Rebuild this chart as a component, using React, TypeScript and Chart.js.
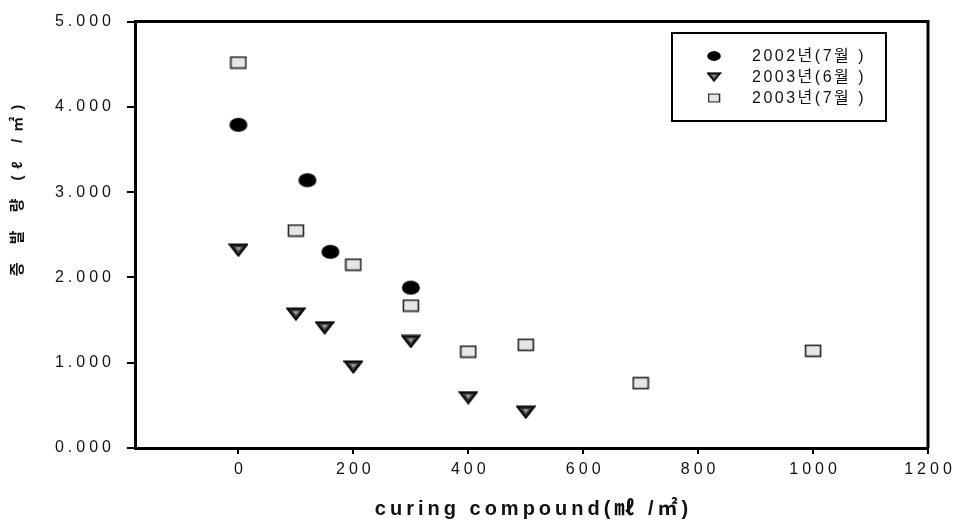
import React, { useEffect, useRef } from "react";
import { Chart, registerables } from "chart.js";

Chart.register(...registerables);

// ---- data ----
const seriesLabels = ["2002년(7월 )", "2003년(6월 )", "2003년(7월 )"];
const x2002Jul = [0, 120, 160, 300];
const y2002Jul = [3.79, 3.14, 2.3, 1.88];
const x2003Jun = [0, 100, 150, 200, 300, 400, 500];
const y2003Jun = [2.32, 1.57, 1.41, 0.95, 1.25, 0.59, 0.42];
const x2003Jul = [0, 100, 200, 300, 400, 500, 700, 1000];
const y2003Jul = [4.52, 2.55, 2.15, 1.67, 1.13, 1.21, 0.76, 1.14];
const xTicks = [0, 200, 400, 600, 800, 1000, 1200];
const yTicks = [0, 1, 2, 3, 4, 5];
const xTitle = "curing compound(㎖ /㎡)";
const yTitle = "증 발 량 (ℓ /㎡)";

const FONT = '"Liberation Sans", Arial, "Noto Sans CJK KR", sans-serif';

function zip(xs: number[], ys: number[]) {
  return xs.map((x, i) => ({ x, y: ys[i] }));
}

function makeEllipse() {
  const c = document.createElement("canvas");
  c.width = 20;
  c.height = 16;
  const g = c.getContext("2d")!;
  g.fillStyle = "#000";
  g.beginPath();
  g.ellipse(10, 8, 9, 7, 0, 0, Math.PI * 2);
  g.fill();
  return c;
}

function makeTriangle() {
  const c = document.createElement("canvas");
  c.width = 20;
  c.height = 14;
  const g = c.getContext("2d")!;
  g.beginPath();
  g.moveTo(1.5, 1.5);
  g.lineTo(18.5, 1.5);
  g.lineTo(10, 12.5);
  g.closePath();
  g.fillStyle = "#3c3c3c";
  g.fill();
  g.lineWidth = 2;
  g.strokeStyle = "#000";
  g.stroke();
  g.fillStyle = "#9a9a9a";
  g.beginPath();
  g.moveTo(7, 4);
  g.lineTo(13, 4);
  g.lineTo(10, 8);
  g.closePath();
  g.fill();
  return c;
}

function makeRect() {
  const c = document.createElement("canvas");
  c.width = 18;
  c.height = 14;
  const g = c.getContext("2d")!;
  g.fillStyle = "#e6e6e6";
  g.fillRect(1, 1, 16, 12);
  g.strokeStyle = "#222";
  g.lineWidth = 1.6;
  g.strokeRect(1.5, 1.5, 15, 11);
  return c;
}

export default function App() {
  const ref = useRef<HTMLCanvasElement | null>(null);

  useEffect(() => {
    if (!ref.current) return;
    const ellipse = makeEllipse();
    const tri = makeTriangle();
    const rect = makeRect();
    const styles = [ellipse, tri, rect];
    const legendSizes = [
      [15, 11],
      [15, 10],
      [13, 10],
    ];

    const decor = {
      id: "decor",
      beforeDraw(chart: any) {
        chart.ctx.letterSpacing = "4px";
      },
      afterDraw(chart: any) {
        const ctx = chart.ctx as CanvasRenderingContext2D;
        const a = chart.chartArea;
        ctx.save();
        // top & right frame
        ctx.strokeStyle = "#000";
        ctx.lineWidth = 3;
        ctx.beginPath();
        ctx.moveTo(a.left, a.top);
        ctx.lineTo(a.right, a.top);
        ctx.lineTo(a.right, a.bottom);
        ctx.stroke();

        // legend
        ctx.lineWidth = 2;
        ctx.strokeRect(672, 33, 214, 88);
        const rows = [56, 77, 98];
        ctx.fillStyle = "#111";
        ctx.font = `16px ${FONT}`;
        (ctx as any).letterSpacing = "2.5px";
        ctx.textAlign = "left";
        ctx.textBaseline = "middle";
        seriesLabels.forEach((lbl, i) => {
          const [w, h] = legendSizes[i];
          ctx.drawImage(styles[i], 714 - w / 2, rows[i] - h / 2, w, h);
          ctx.fillText(lbl, 752, rows[i] + 1);
        });

        // x title
        ctx.font = `bold 20px ${FONT}`;
        (ctx as any).letterSpacing = "4px";
        ctx.textAlign = "center";
        ctx.textBaseline = "middle";
        ctx.fillText(xTitle, (a.left + a.right) / 2 + 2, 509);

        // y title
        ctx.translate(18, 190);
        ctx.rotate(-Math.PI / 2);
        ctx.font = `bold 15px ${FONT}`;
        (ctx as any).letterSpacing = "7px";
        ctx.fillText(yTitle, 3, 0);
        ctx.restore();
        (ctx as any).letterSpacing = "0px";
      },
    };

    const chart = new Chart(ref.current, {
      type: "scatter",
      data: {
        datasets: [
          {
            label: seriesLabels[0],
            data: zip(x2002Jul, y2002Jul),
            pointStyle: ellipse as any,
            radius: 8,
            backgroundColor: "#000",
            borderColor: "#000",
          },
          {
            label: seriesLabels[1],
            data: zip(x2003Jun, y2003Jun),
            pointStyle: tri as any,
            radius: 8,
            backgroundColor: "#3c3c3c",
            borderColor: "#000",
          },
          {
            label: seriesLabels[2],
            data: zip(x2003Jul, y2003Jul),
            pointStyle: rect as any,
            radius: 8,
            backgroundColor: "#e6e6e6",
            borderColor: "#222",
          },
        ],
      },
      options: {
        animation: false,
        responsive: true,
        maintainAspectRatio: false,
        layout: { padding: { left: 0, right: 27, top: 15, bottom: 0 } },
        plugins: {
          legend: { display: false },
          tooltip: { enabled: false },
        },
        scales: {
          x: {
            type: "linear",
            min: -180,
            max: 1200,
            afterBuildTicks: (s: any) => {
              s.ticks = xTicks.map((v) => ({ value: v }));
            },
            afterFit: (s: any) => {
              s.height = 73;
            },
            grid: {
              drawOnChartArea: false,
              drawTicks: true,
              tickLength: 6,
              color: "#000",
              lineWidth: 2,
            },
            border: { display: true, color: "#000", width: 3 },
            ticks: {
              color: "#111",
              font: { family: FONT, size: 16 },
              padding: 6,
              labelOffset: 2,
              maxRotation: 0,
              autoSkip: false,
              callback: (v: any) => String(v),
            },
          },
          y: {
            type: "linear",
            min: 0,
            max: 5,
            afterBuildTicks: (s: any) => {
              s.ticks = yTicks.map((v) => ({ value: v }));
            },
            afterFit: (s: any) => {
              s.width = 135;
            },
            grid: {
              drawOnChartArea: false,
              drawTicks: true,
              tickLength: 8,
              color: "#000",
              lineWidth: 2,
            },
            border: { display: true, color: "#000", width: 3 },
            ticks: {
              color: "#111",
              font: { family: FONT, size: 16 },
              padding: 12,
              callback: (v: any) => Number(v).toFixed(3),
            },
          },
        },
      },
      plugins: [decor],
    });
    return () => chart.destroy();
  }, []);

  return (
    <div style={{ position: "absolute", left: 0, top: 0, width: 955, height: 521, background: "#fff" }}>
      <canvas ref={ref} />
    </div>
  );
}
